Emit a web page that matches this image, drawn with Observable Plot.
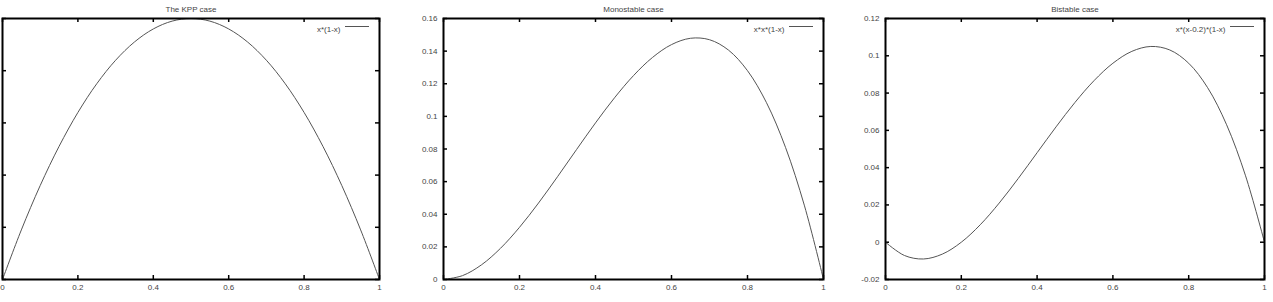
<!DOCTYPE html>
<html><head><meta charset="utf-8">
<script src="https://cdn.jsdelivr.net/npm/d3@7"></script>
<script src="https://cdn.jsdelivr.net/npm/@observablehq/plot@0.6"></script>
<style>
html,body{margin:0;padding:0;background:#fff;overflow:hidden;width:1273px;height:302px;}
#wrap{position:relative;width:1273px;height:302px;overflow:hidden;}
.panel{position:absolute;top:0;}
</style></head><body><div id="wrap"></div>
<script>
const xs = [0,0.05,0.1,0.15,0.2,0.25,0.3,0.35,0.4,0.45,0.5,0.55,0.6,0.65,0.7,0.75,0.8,0.85,0.9,0.95,1];
const kppValues = [0,0.0475,0.09,0.1275,0.16,0.1875,0.21,0.2275,0.24,0.2475,0.25,0.2475,0.24,0.2275,0.21,0.1875,0.16,0.1275,0.09,0.0475,0];
const monoValues = [0,0.002375,0.009,0.019125,0.032,0.046875,0.063,0.079625,0.096,0.111375,0.125,0.136125,0.144,0.147875,0.147,0.140625,0.128,0.108375,0.081,0.045125,0];
const biValues = [0,-0.007125,-0.009,-0.006375,0,0.009375,0.021,0.034125,0.048,0.061875,0.075,0.086625,0.096,0.102375,0.105,0.103125,0.096,0.082875,0.063,0.035625,0];

const titles = ["The KPP case", "Monostable case", "Bistable case"];
const legendLabels = ["x*(1-x)", "x*x*(1-x)", "x*(x-0.2)*(1-x)"];

const xTicks = [0,0.2,0.4,0.6,0.8,1];
const xTickLabels = ["0","0.2","0.4","0.6","0.8","1"];
const yTicks1 = [0,0.05,0.1,0.15,0.2,0.25];
const yTicks2 = [0,0.02,0.04,0.06,0.08,0.1,0.12,0.14,0.16];
const yTickLabels2 = ["0","0.02","0.04","0.06","0.08","0.1","0.12","0.14","0.16"];
const yTicks3 = [-0.02,0,0.02,0.04,0.06,0.08,0.1,0.12];
const yTickLabels3 = ["-0.02","0","0.02","0.04","0.06","0.08","0.1","0.12"];

const textColor = "#444";
const curveColor = "#555";

function panel({left, width, ml, values, yTicks, yLabels, title, legend}) {
  const H = 302, mt = 18, mb = 23, mr = 10;
  const innerW = width - ml - mr, innerH = H - mt - mb;
  const data = xs.map((x, i) => ({x, y: values[i]}));
  const yDom = [yTicks[0], yTicks[yTicks.length - 1]];
  const marks = [
    Plot.axisX(xTicks, {anchor: "bottom", tickSize: 0, tickPadding: 5, label: null, fill: textColor,
      tickFormat: d => xTickLabels[xTicks.indexOf(d)]})
  ];
  if (yLabels) {
    marks.push(Plot.axisY(yTicks, {anchor: "left", tickSize: 0, tickPadding: 6, label: null, fill: textColor,
      tickFormat: d => yLabels[yTicks.indexOf(d)]}));
  }
  marks.push(
    Plot.ruleX(xTicks, {x: d => d, insetTop: innerH - 4, stroke: "#000", strokeWidth: 1.5}),
    Plot.ruleX(xTicks, {x: d => d, insetBottom: innerH - 4, stroke: "#000", strokeWidth: 1.5}),
    Plot.ruleY(yTicks, {y: d => d, insetRight: innerW - 4, stroke: "#000", strokeWidth: 1.5}),
    Plot.ruleY(yTicks, {y: d => d, insetLeft: innerW - 4, stroke: "#000", strokeWidth: 1.5}),
    Plot.line(data, {x: "x", y: "y", curve: "catmull-rom", stroke: curveColor, strokeWidth: 1}),
    Plot.text([title], {frameAnchor: "top", dy: -12, fill: textColor, fontSize: 8}),
    Plot.text([legend], {frameAnchor: "top-right", dx: -39, dy: 8, textAnchor: "end", fill: textColor, fontSize: 8}),
    Plot.ruleY([yDom[1]], {dy: 8, insetLeft: innerW - 34, insetRight: 10, stroke: curveColor, strokeWidth: 1}),
    Plot.frame({stroke: "#000", strokeWidth: 2})
  );
  const p = Plot.plot({
    width, height: H, marginTop: mt, marginBottom: mb, marginLeft: ml, marginRight: mr,
    style: {fontFamily: "'Liberation Sans', Arial, sans-serif", fontSize: "8px", background: "transparent", overflow: "visible"},
    x: {domain: [0, 1], axis: null},
    y: {domain: yDom, axis: null},
    marks
  });
  p.classList.add("panel");
  p.style.left = left + "px";
  document.getElementById("wrap").appendChild(p);
}

panel({left: 0, width: 389, ml: 2, values: kppValues, yTicks: yTicks1, yLabels: null, title: titles[0], legend: legendLabels[0]});
panel({left: 398, width: 435, ml: 45, values: monoValues, yTicks: yTicks2, yLabels: yTickLabels2, title: titles[1], legend: legendLabels[1]});
panel({left: 840, width: 434, ml: 45, values: biValues, yTicks: yTicks3, yLabels: yTickLabels3, title: titles[2], legend: legendLabels[2]});
</script>
</body></html>
